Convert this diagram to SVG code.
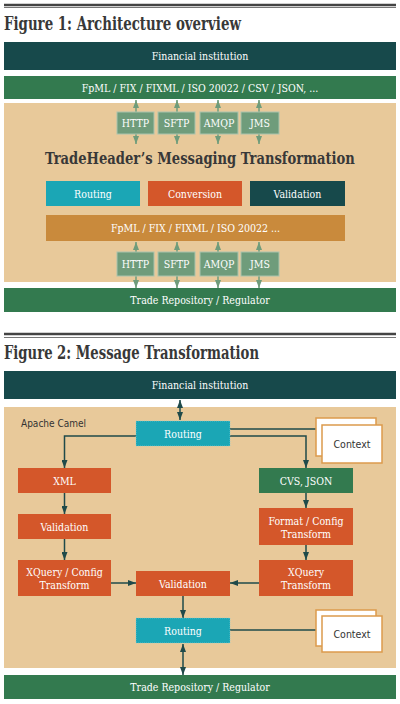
<svg xmlns="http://www.w3.org/2000/svg" width="400" height="704" viewBox="0 0 400 704">
<defs>
<marker id="ag" viewBox="0 0 8 6" refX="8" refY="3" markerWidth="8" markerHeight="6" orient="auto-start-reverse" markerUnits="userSpaceOnUse"><path d="M0,0 L8,3 L0,6 Z" fill="#6f9c7b"/></marker>
<marker id="at" viewBox="0 0 8 6" refX="8" refY="3" markerWidth="8" markerHeight="6" orient="auto-start-reverse" markerUnits="userSpaceOnUse"><path d="M0,0 L8,3 L0,6 Z" fill="#1f4a4a"/></marker>
<style>
.title{font-family:"DejaVu Serif",serif;font-weight:bold;font-stretch:condensed;fill:#383838;}
.lbl{font-family:"DejaVu Serif",serif;font-stretch:condensed;font-size:10.5px;fill:#fff;text-anchor:middle;dominant-baseline:central;}
.ctx{font-family:"DejaVu Sans",sans-serif;font-stretch:condensed;font-size:10.5px;fill:#333;text-anchor:middle;dominant-baseline:central;}
.dark{fill:#17494b;}
.green{fill:#337a4f;}
.tan{fill:#e8c99a;}
.org{fill:#d4572a;}
.teal{fill:#1ba6b5;}
.proto{fill:#6f9c7b;stroke:#a9c4ae;stroke-width:1;}
.gold{fill:#c98a3c;}
.cbox{fill:#fff;stroke:#dc9a4c;stroke-width:1.5;}
.cg{stroke:#6f9c7b;stroke-width:1.5;fill:none;}
.ct{stroke:#1f4a4a;stroke-width:1.5;fill:none;}
.rule1{stroke:#444;stroke-width:2.5;}
.rule2{stroke:#777;stroke-width:1;}
</style>
</defs>
<rect width="400" height="704" fill="#fff"/>

<!-- Figure 1 -->
<line class="rule1" x1="4" y1="5" x2="396" y2="5"/>
<line class="rule2" x1="4" y1="7.5" x2="396" y2="7.5"/>
<text class="title" transform="translate(4,30) scale(0.825,1)" font-size="18">Figure 1: Architecture overview</text>

<g id="f1-fin"><rect class="dark" x="4" y="42" width="392" height="28"/><text class="lbl" x="200" y="56">Financial institution</text></g>
<g id="f1-formats"><rect class="green" x="4" y="76" width="392" height="23"/><text class="lbl" x="200" y="87.5">FpML / FIX / FIXML / ISO 20022 / CSV / JSON, ...</text></g>
<g id="f1-bg"><rect class="tan" x="4" y="103" width="392" height="179"/></g>

<g id="f1-connectors">
<line class="cg" x1="136" y1="112" x2="136" y2="100" marker-end="url(#ag)"/>
<line class="cg" x1="177" y1="112" x2="177" y2="100" marker-end="url(#ag)"/>
<line class="cg" x1="218" y1="112" x2="218" y2="100" marker-end="url(#ag)"/>
<line class="cg" x1="259" y1="112" x2="259" y2="100" marker-end="url(#ag)"/>
<line class="cg" x1="136" y1="134" x2="136" y2="144" marker-end="url(#ag)"/>
<line class="cg" x1="177" y1="134" x2="177" y2="144" marker-end="url(#ag)"/>
<line class="cg" x1="218" y1="134" x2="218" y2="144" marker-end="url(#ag)"/>
<line class="cg" x1="259" y1="134" x2="259" y2="144" marker-end="url(#ag)"/>
<line class="cg" x1="136" y1="252" x2="136" y2="242" marker-end="url(#ag)"/>
<line class="cg" x1="177" y1="252" x2="177" y2="242" marker-end="url(#ag)"/>
<line class="cg" x1="218" y1="252" x2="218" y2="242" marker-end="url(#ag)"/>
<line class="cg" x1="259" y1="252" x2="259" y2="242" marker-end="url(#ag)"/>
<line class="cg" x1="136" y1="276" x2="136" y2="288" marker-end="url(#ag)"/>
<line class="cg" x1="177" y1="276" x2="177" y2="288" marker-end="url(#ag)"/>
<line class="cg" x1="218" y1="276" x2="218" y2="288" marker-end="url(#ag)"/>
<line class="cg" x1="259" y1="276" x2="259" y2="288" marker-end="url(#ag)"/>
</g>

<g id="f1-http1"><rect class="proto" x="117" y="112" width="37" height="22"/><text class="lbl" x="135.5" y="123">HTTP</text></g>
<g id="f1-sftp1"><rect class="proto" x="158" y="112" width="37" height="22"/><text class="lbl" x="176.5" y="123">SFTP</text></g>
<g id="f1-amqp1"><rect class="proto" x="200" y="112" width="38" height="22"/><text class="lbl" x="219" y="123">AMQP</text></g>
<g id="f1-jms1"><rect class="proto" x="241" y="112" width="38" height="22"/><text class="lbl" x="260" y="123">JMS</text></g>

<text class="title" transform="translate(45,164) scale(0.858,1)" font-size="17">TradeHeader’s Messaging Transformation</text>

<g id="f1-routing"><rect class="teal" x="46" y="181" width="94" height="25"/><text class="lbl" x="93" y="193.5">Routing</text></g>
<g id="f1-conversion"><rect class="org" x="148" y="181" width="94" height="25"/><text class="lbl" x="195" y="193.5">Conversion</text></g>
<g id="f1-validation"><rect class="dark" x="250" y="181" width="95" height="25"/><text class="lbl" x="297.5" y="193.5">Validation</text></g>
<g id="f1-formats2"><rect class="gold" x="46" y="215" width="299" height="26"/><text class="lbl" x="195.5" y="228">FpML / FIX / FIXML / ISO 20022 ...</text></g>

<g id="f1-http2"><rect class="proto" x="117" y="252" width="37" height="24"/><text class="lbl" x="135.5" y="264">HTTP</text></g>
<g id="f1-sftp2"><rect class="proto" x="158" y="252" width="37" height="24"/><text class="lbl" x="176.5" y="264">SFTP</text></g>
<g id="f1-amqp2"><rect class="proto" x="200" y="252" width="38" height="24"/><text class="lbl" x="219" y="264">AMQP</text></g>
<g id="f1-jms2"><rect class="proto" x="241" y="252" width="38" height="24"/><text class="lbl" x="260" y="264">JMS</text></g>

<g id="f1-trade"><rect class="green" x="4" y="288" width="392" height="24"/><text class="lbl" x="200" y="300">Trade Repository / Regulator</text></g>

<!-- Figure 2 -->
<line class="rule1" x1="4" y1="334" x2="396" y2="334"/>
<line class="rule2" x1="4" y1="337.5" x2="396" y2="337.5"/>
<text class="title" transform="translate(4,359) scale(0.815,1)" font-size="18">Figure 2: Message Transformation</text>

<g id="f2-fin"><rect class="dark" x="4" y="371" width="392" height="28"/><text class="lbl" x="200" y="385">Financial institution</text></g>
<g id="f2-bg"><rect class="tan" x="4" y="407" width="392" height="261"/><text x="21" y="427" font-family="DejaVu Sans, sans-serif" font-stretch="condensed" font-size="10" fill="#333">Apache Camel</text></g>

<g id="f2-connectors">
<line class="ct" x1="180" y1="400" x2="180" y2="420" marker-start="url(#at)" marker-end="url(#at)"/>
<line class="ct" x1="230" y1="429" x2="316" y2="429"/>
<polyline class="ct" points="136,436 64.5,436 64.5,468" marker-end="url(#at)"/>
<polyline class="ct" points="230,436 306,436 306,468" marker-end="url(#at)"/>
<line class="ct" x1="64.5" y1="493" x2="64.5" y2="514" marker-end="url(#at)"/>
<line class="ct" x1="64.5" y1="539" x2="64.5" y2="560" marker-end="url(#at)"/>
<line class="ct" x1="306" y1="493" x2="306" y2="508" marker-end="url(#at)"/>
<line class="ct" x1="306" y1="545" x2="306" y2="560" marker-end="url(#at)"/>
<line class="ct" x1="111" y1="583" x2="136" y2="583" marker-end="url(#at)"/>
<line class="ct" x1="259" y1="583" x2="230" y2="583" marker-end="url(#at)"/>
<line class="ct" x1="183" y1="596" x2="183" y2="618" marker-end="url(#at)"/>
<line class="ct" x1="230" y1="630" x2="316" y2="630"/>
<line class="ct" x1="183" y1="644" x2="183" y2="675" marker-start="url(#at)" marker-end="url(#at)"/>
</g>

<g id="f2-routing1"><rect class="teal" x="136" y="421" width="94" height="25" stroke="#7fd0da" stroke-width="0.6" stroke-dasharray="1,1"/><text class="lbl" x="183" y="433.5">Routing</text></g>
<g id="f2-context1"><rect class="cbox" x="316" y="418" width="60" height="38"/><rect class="cbox" x="322" y="425" width="60" height="38"/><text class="ctx" x="352" y="444">Context</text></g>
<g id="f2-xml"><rect class="org" x="18" y="468" width="93" height="25"/><text class="lbl" x="64.5" y="480.5">XML</text></g>
<g id="f2-validation1"><rect class="org" x="18" y="514" width="93" height="25"/><text class="lbl" x="64.5" y="526.5">Validation</text></g>
<g id="f2-xquery-config"><rect class="org" x="18" y="560" width="93" height="36"/><text class="lbl" x="64.5" y="572">XQuery / Config</text><text class="lbl" x="64.5" y="585">Transform</text></g>
<g id="f2-csv"><rect class="green" x="259" y="468" width="94" height="25"/><text class="lbl" x="306" y="480.5">CVS, JSON</text></g>
<g id="f2-format"><rect class="org" x="259" y="508" width="94" height="37"/><text class="lbl" x="306" y="520.5">Format / Config</text><text class="lbl" x="306" y="533.5">Transform</text></g>
<g id="f2-xquery"><rect class="org" x="259" y="560" width="94" height="36"/><text class="lbl" x="306" y="572">XQuery</text><text class="lbl" x="306" y="585">Transform</text></g>
<g id="f2-validation2"><rect class="org" x="136" y="571" width="94" height="25"/><text class="lbl" x="183" y="583.5">Validation</text></g>
<g id="f2-routing2"><rect class="teal" x="136" y="618" width="94" height="25" stroke="#7fd0da" stroke-width="0.6" stroke-dasharray="1,1"/><text class="lbl" x="183" y="630.5">Routing</text></g>
<g id="f2-context2"><rect class="cbox" x="316" y="610" width="60" height="36"/><rect class="cbox" x="322" y="616" width="60" height="36"/><text class="ctx" x="352" y="634">Context</text></g>
<g id="f2-trade"><rect class="green" x="4" y="675" width="392" height="24"/><text class="lbl" x="200" y="687">Trade Repository / Regulator</text></g>
</svg>
